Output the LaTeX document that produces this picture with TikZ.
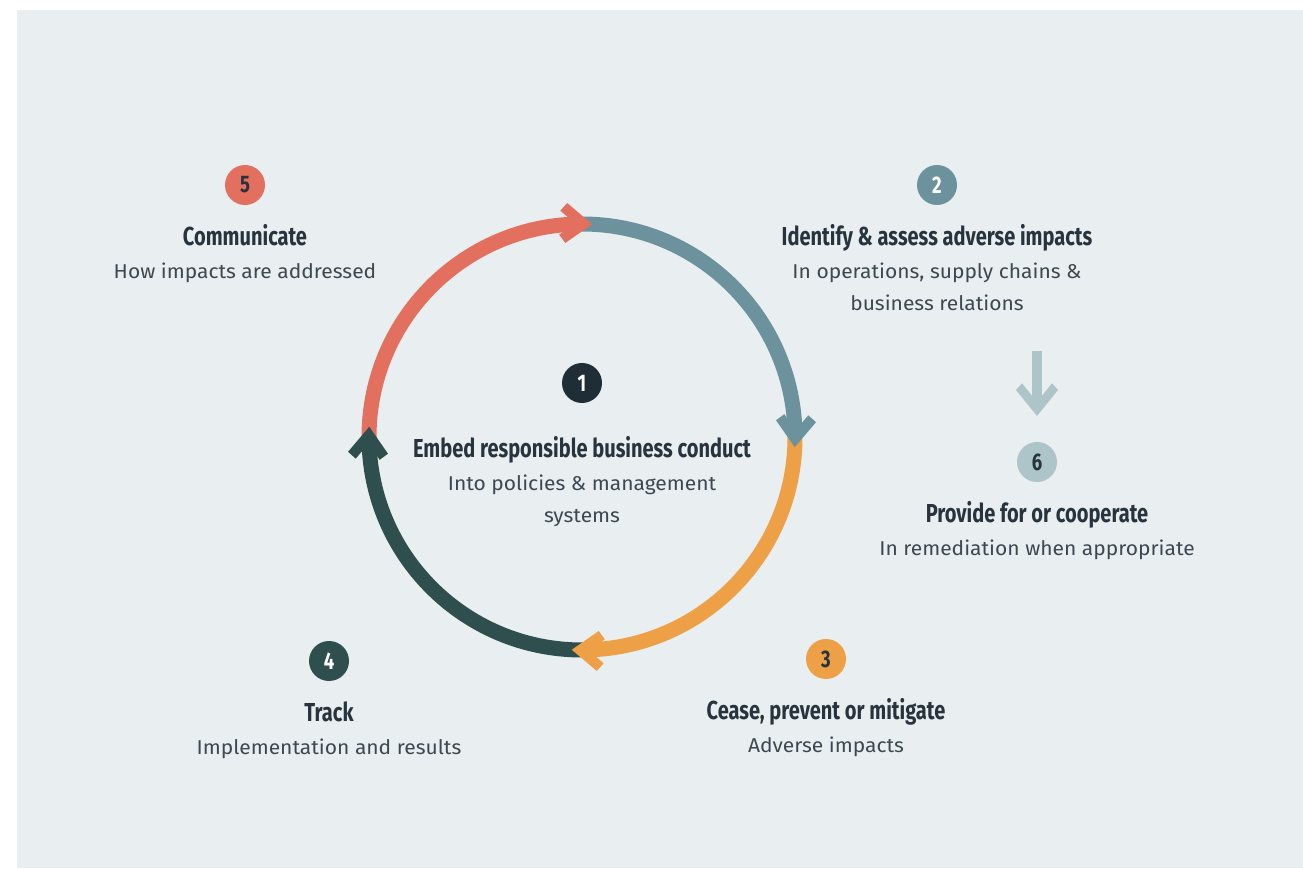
\documentclass[tikz,border=0pt]{standalone}
\usepackage{fontspec}
\setmainfont[FakeStretch=1.05]{Fira Sans}
\newfontfamily\headfont[FakeStretch=0.77]{Fira Sans}
\usetikzlibrary{positioning}
\definecolor{bgpanel}{HTML}{E9EEF1}
\definecolor{stepred}{HTML}{E3705F}
\definecolor{stepteal}{HTML}{6C929D}
\definecolor{steporange}{HTML}{EDA046}
\definecolor{stepdark}{HTML}{2F4F4F}
\definecolor{stepnavy}{HTML}{1F2D37}
\definecolor{steplight}{HTML}{ADC5C9}
\definecolor{headtext}{HTML}{27343D}
\definecolor{bodytext}{HTML}{3D4850}
\tikzset{
  badge/.style={circle, minimum size=40pt, inner sep=0pt, font=\headfont\bfseries\fontsize{24}{24}\selectfont},
  heading/.style={inner sep=0pt, text height=18pt, text depth=6pt, text=headtext, font=\headfont\bfseries\fontsize{26}{30}\selectfont},
  subtext/.style={inner sep=0pt, align=center, text=bodytext, font=\fontsize{20}{32}\selectfont},
  ring/.style={line width=15pt, line cap=butt},
  chev/.pic={\fill (0,0) -- (-26,20) -- (-32.5,12) -- (-16.9,0) -- (-32.5,-12) -- (-26,-20) -- cycle;},
  dropchev/.pic={\fill (0,0) -- (-26,21) -- (-32.7,15) -- (-14.1,0) -- (-32.7,-15) -- (-26,-21) -- cycle;}
}

\begin{document}
\begin{tikzpicture}[x=1pt, y=1pt, node distance=22pt]
  \useasboundingbox (0,0) rectangle (1303,868);
  \fill[bgpanel] (17,0) rectangle (1303,858);

  % cycle
  \coordinate (C) at (582,431);
  \coordinate (vred) at (582,644);
  \coordinate (vteal) at (795,431);
  \coordinate (vorange) at (582,218);
  \coordinate (vdark) at (369,431);
  \draw[ring, stepred] (vdark) arc[start angle=180, end angle=90, radius=213];
  \draw[ring, stepteal] (vred) arc[start angle=90, end angle=0, radius=213];
  \draw[ring, steporange] (vteal) arc[start angle=0, end angle=-90, radius=213];
  \draw[ring, stepdark] (vorange) arc[start angle=270, end angle=180, radius=213];
  \begin{scope}[shift={(C)}]
    \pic[stepred, rotate=-2.75] at (87.25:213) {chev};
    \pic[stepteal, rotate=-92.75] at (-2.75:213) {chev};
    \pic[steporange, rotate=177.25] at (267.25:213) {chev};
    \pic[stepdark, rotate=87.25] at (177.25:213) {chev};
  \end{scope}

  % steps
  \node[badge, fill=stepnavy, text=white] (b1) at (582,485) {1};
  \node[heading, below=36pt of b1] (t1) {Embed responsible business conduct};
  \node[subtext, below=11pt of t1] (s1) {Into policies \& management\\systems};

  \node[badge, fill=stepteal, text=white] (b2) at (937,683) {2};
  \node[heading, below=of b2] (t2) {Identify \& assess adverse impacts};
  \node[subtext, below=11pt of t2] (s2) {In operations, supply chains \&\\business relations};

  \node[badge, fill=steporange, text=headtext] (b3) at (826,209) {3};
  \node[heading, below=of b3] (t3) {Cease, prevent or mitigate};
  \node[subtext, below=11pt of t3] (s3) {Adverse impacts};

  \node[badge, fill=stepdark, text=white] (b4) at (329,207) {4};
  \node[heading, below=of b4] (t4) {Track};
  \node[subtext, below=11pt of t4] (s4) {Implementation and results};

  \node[badge, fill=stepred, text=headtext] (b5) at (245,683) {5};
  \node[heading, below=of b5] (t5) {Communicate};
  \node[subtext, below=11pt of t5] (s5) {How impacts are addressed};

  \node[badge, fill=steplight, text=headtext] (b6) at (1037,406) {6};
  \node[heading, below=of b6] (t6) {Provide for or cooperate};
  \node[subtext, below=11pt of t6] (s6) {In remediation when appropriate};

  % remediation arrow
  \coordinate (dn1) at (1037,517);
  \coordinate (dntip) at (1037,452);
  \draw[line width=10pt, steplight] (dn1) -- ([yshift=8pt]dntip);
  \pic[steplight, rotate=-90] at (dntip) {dropchev};
\end{tikzpicture}
\end{document}
